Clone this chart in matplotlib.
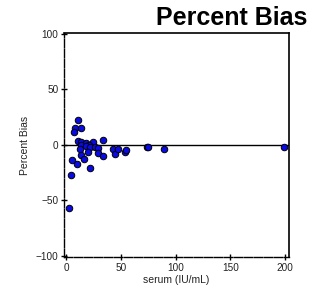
import matplotlib
matplotlib.use("Agg")
import matplotlib.pyplot as plt

plt.rcParams['font.family'] = ['Liberation Sans', 'DejaVu Sans']

serum = [10.7, 7.6, 13.1, 6.7, 10.7, 13.4, 18.0, 24.6, 33.7, 13.4, 20.7, 18.0,
         21.9, 26.4, 29.2, 12.8, 29.2, 20.0, 13.4, 16.4, 5.5, 9.8, 21.3, 4.3,
         2.6, 33.2, 42.8, 44.7, 47.1, 53.2, 54.4, 74.2, 75.1, 89.0, 198.7]
bias = [22.2, 15.5, 15.0, 11.4, 3.6, 2.7, 1.8, 3.0, 4.5, 0.3, -0.3, -1.2,
        -2.1, -1.8, -2.7, -3.3, -6.9, -6.3, -8.7, -12.3, -13.8, -16.8, -21.0, -27.5,
        -57.1, -10.2, -3.9, -8.4, -3.6, -6.0, -4.2, -1.8, -1.6, -3.9, -2.0]
xticks = [0, 50, 100, 150, 200]
yticks = [-100, -50, 0, 50, 100]

fig = plt.figure(figsize=(3.21, 2.93), dpi=100)
ax = fig.add_axes([64/321, 1-257/293, 225/321, 224/293])
ax.axhline(0, color='black', lw=1, zorder=1)
ax.scatter(serum, bias, s=22, facecolor='#0a0ae6', edgecolor='black', lw=0.7, zorder=3)
ax.set_xlim(-2.1, 203.5)
ax.set_ylim(-100.8, 100.6)
ax.set_xticks(xticks)
ax.set_yticks(yticks)
ax.tick_params(direction='inout', length=5, width=1, labelsize=7.2, pad=1.5, color='black',
               labelcolor='#222222')
for s in ['top', 'right']:
    ax.spines[s].set_linewidth(1.2)
for s in ['left', 'bottom']:
    ax.spines[s].set_linewidth(1.0)
    ax.spines[s].set_linestyle((0, (6, 1.2)))
ax.set_xlabel('serum (IU/mL)', fontsize=7.5, labelpad=2, color='#222222')
ax.set_ylabel('Percent Bias', fontsize=7.5, labelpad=4, color='#222222')
fig.text(307/321, 1-25/293, 'Percent Bias', fontsize=18, fontweight='bold',
         ha='right', va='baseline')
fig.savefig('out.png', dpi=100)
